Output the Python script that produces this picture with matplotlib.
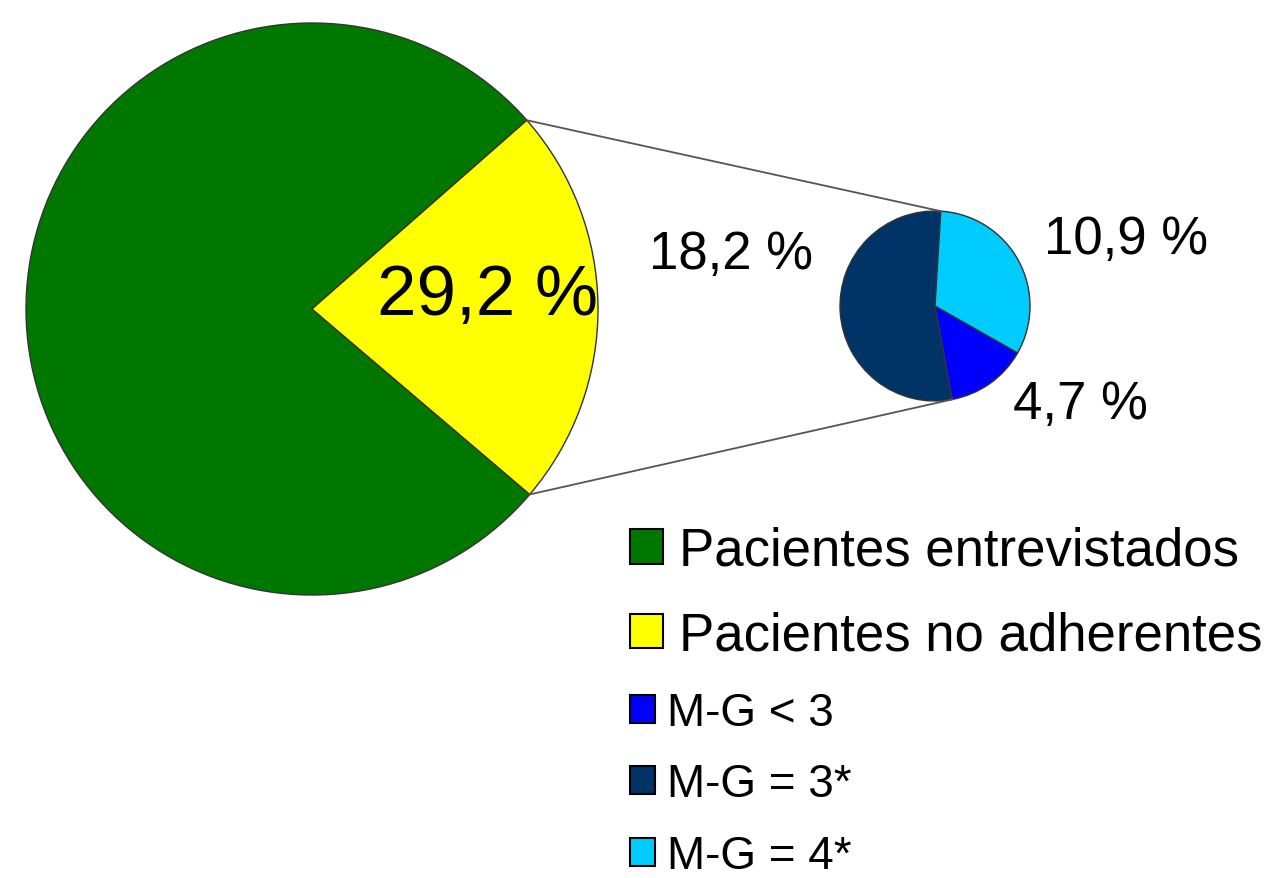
import numpy as np
import matplotlib
matplotlib.use('Agg')
import matplotlib.pyplot as plt

# 数据
big_labels = ['Pacientes entrevistados', 'Pacientes no adherentes']
big_values = [77.3, 22.7]          # wedge shares
big_colors = ['#007800', '#FFFF00']
big_text = '29,2 %'

small_labels = ['M-G < 3', 'M-G = 3*', 'M-G = 4*']
small_values = [4.7, 18.2, 10.9]
small_colors = ['#0000FF', '#003366', '#00CCFF']
small_text = ['4,7 %', '18,2 %', '10,9 %']

plt.rcParams['font.family'] = ['Liberation Sans', 'DejaVu Sans']

W, H = 1266, 879
fig = plt.figure(figsize=(W / 100, H / 100), dpi=100)
ax = fig.add_axes([0, 0, 1, 1])

# 大饼图
big_c = (312, H - 310)
big_r = 286
wb, _ = ax.pie(big_values, colors=big_colors, startangle=41.3,
               center=big_c, radius=big_r, frame=True,
               wedgeprops=dict(edgecolor='#333333', linewidth=1.0))

# 小饼图
small_c = (935, H - 307)
small_r = 95
ws, _ = ax.pie(small_values, colors=small_colors, startangle=-29.6,
               counterclock=False, center=small_c, radius=small_r, frame=True,
               wedgeprops=dict(edgecolor='#333333', linewidth=1.0))
ax.set_xlim(0, W)
ax.set_ylim(0, H)
ax.set_aspect('equal')
ax.axis('off')


def edge_point(c, r, ang):
    a = np.deg2rad(ang)
    return c[0] + r * np.cos(a), c[1] + r * np.sin(a)


# 连接线
yel = wb[1]
navy = ws[1]
p1 = edge_point(big_c, big_r, yel.theta2)
q1 = edge_point(small_c, small_r, navy.theta1)
p2 = edge_point(big_c, big_r, yel.theta1)
q2 = edge_point(small_c, small_r, navy.theta2)
ax.plot([p1[0], q1[0]], [p1[1], q1[1]], color='#555555', lw=1.3)
ax.plot([p2[0], q2[0]], [p2[1], q2[1]], color='#555555', lw=1.3)

# 标签
ax.text(487, H - 297, big_text, fontsize=51, ha='center', va='center')
ax.text(1080, H - 405, small_text[0], fontsize=38, ha='center', va='center')
ax.text(731, H - 255, small_text[1], fontsize=38, ha='center', va='center')
ax.text(1126, H - 240, small_text[2], fontsize=38, ha='center', va='center')

# 图例 (两部分)
leg1 = ax.legend(list(wb), big_labels, loc='upper left',
                 bbox_to_anchor=(630 / W, 1 - 527 / H), bbox_transform=fig.transFigure,
                 frameon=False, fontsize=38, handlelength=0.62, handleheight=0.62,
                 handletextpad=0.3, labelspacing=0.66, borderaxespad=0,
                 borderpad=0)
for p in leg1.get_patches():
    p.set_edgecolor('black')
    p.set_linewidth(1.5)
ax.add_artist(leg1)

leg2 = ax.legend(list(ws), small_labels, loc='upper left',
                 bbox_to_anchor=(630 / W, 1 - 692 / H), bbox_transform=fig.transFigure,
                 frameon=False, fontsize=33, handlelength=0.55, handleheight=0.55,
                 handletextpad=0.25, labelspacing=0.6, borderaxespad=0,
                 borderpad=0)
for p in leg2.get_patches():
    p.set_edgecolor('black')
    p.set_linewidth(1.5)

fig.savefig('out.png', dpi=100)
